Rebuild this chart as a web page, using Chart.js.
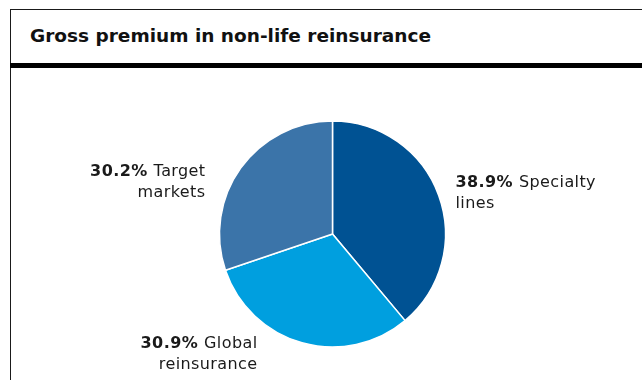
<!DOCTYPE html>
<html>
<head>
<meta charset="utf-8">
<title>Gross premium in non-life reinsurance</title>
<script src="https://cdn.jsdelivr.net/npm/chart.js@4.4.1/dist/chart.umd.min.js"></script>
<style>
  html, body { margin: 0; padding: 0; background: #ffffff; }
  #frame { position: absolute; left: 0; top: 0; width: 642px; height: 380px; overflow: hidden; }
  #box { position: absolute; left: 10px; top: 9px; width: 640px; height: 380px;
         border-left: 1px solid #1a1a1a; border-top: 1px solid #1a1a1a; }
  #title { position: absolute; left: 30px; top: 26px; margin: 0;
           font: bold 18.5px/19px "DejaVu Sans", sans-serif; color: #111; white-space: nowrap; }
  #rule { position: absolute; left: 10px; top: 63px; width: 632px; height: 5px; background: #000; }
  #chart { position: absolute; left: 0; top: 0; }
</style>
</head>
<body>
<div id="frame">
  <div id="box"></div>
  <h1 id="title">Gross premium in non-life reinsurance</h1>
  <div id="rule"></div>
  <canvas id="chart" width="642" height="380"></canvas>
</div>
<script>
// Segments, clockwise from 12 o'clock
const categories = ['Specialty lines', 'Global reinsurance', 'Target markets'];
const shares = [38.9, 30.9, 30.2];
const colors = ['#005293', '#009fdf', '#3b74a9'];

// Label placement relative to the pie centre / radius
const labelPlacement = [
  { align: 'left',  dx: r => r + 10, dy: r => -47 },
  { align: 'right', dx: r => -75,    dy: r => r + 1 },
  { align: 'right', dx: r => -(r + 14), dy: r => -58 }
];

const FONT = '"DejaVu Sans", sans-serif';

const sliceLabels = {
  id: 'sliceLabels',
  afterDatasetsDraw(chart) {
    const ctx = chart.ctx;
    const arc = chart.getDatasetMeta(0).data[0];
    const cx = arc.x, cy = arc.y, r = arc.outerRadius;
    ctx.save();
    ctx.fillStyle = '#1a1a1a';
    ctx.textBaseline = 'alphabetic';
    ctx.letterSpacing = '0.4px';
    categories.forEach((name, i) => {
      const p = labelPlacement[i];
      const sp = name.indexOf(' ');
      const first = name.slice(0, sp);
      const rest = name.slice(sp + 1);
      const pct = shares[i].toFixed(1) + '%';
      const x = cx + p.dx(r);
      const y = cy + p.dy(r);
      ctx.font = 'bold 16px ' + FONT;
      const wPct = ctx.measureText(pct + ' ').width;
      ctx.font = '16px ' + FONT;
      const wFirst = ctx.measureText(first).width;
      const x0 = p.align === 'left' ? x : x - wPct - wFirst;
      ctx.textAlign = 'left';
      ctx.font = 'bold 16px ' + FONT;
      ctx.fillText(pct, x0, y);
      ctx.font = '16px ' + FONT;
      ctx.fillText(first, x0 + wPct, y);
      ctx.textAlign = p.align;
      ctx.fillText(rest, x, y + 21);
    });
    ctx.restore();
  }
};

new Chart(document.getElementById('chart'), {
  type: 'pie',
  data: {
    labels: categories,
    datasets: [{
      data: shares,
      backgroundColor: colors,
      borderColor: '#ffffff',
      borderWidth: 1.5
    }]
  },
  options: {
    responsive: false,
    animation: false,
    devicePixelRatio: 1,
    events: [],
    radius: 113,
    layout: { padding: { left: 23, right: 0, top: 88, bottom: 0 } },
    plugins: {
      legend: { display: false },
      tooltip: { enabled: false },
      title: { display: false }
    }
  },
  plugins: [sliceLabels]
});
</script>
</body>
</html>
